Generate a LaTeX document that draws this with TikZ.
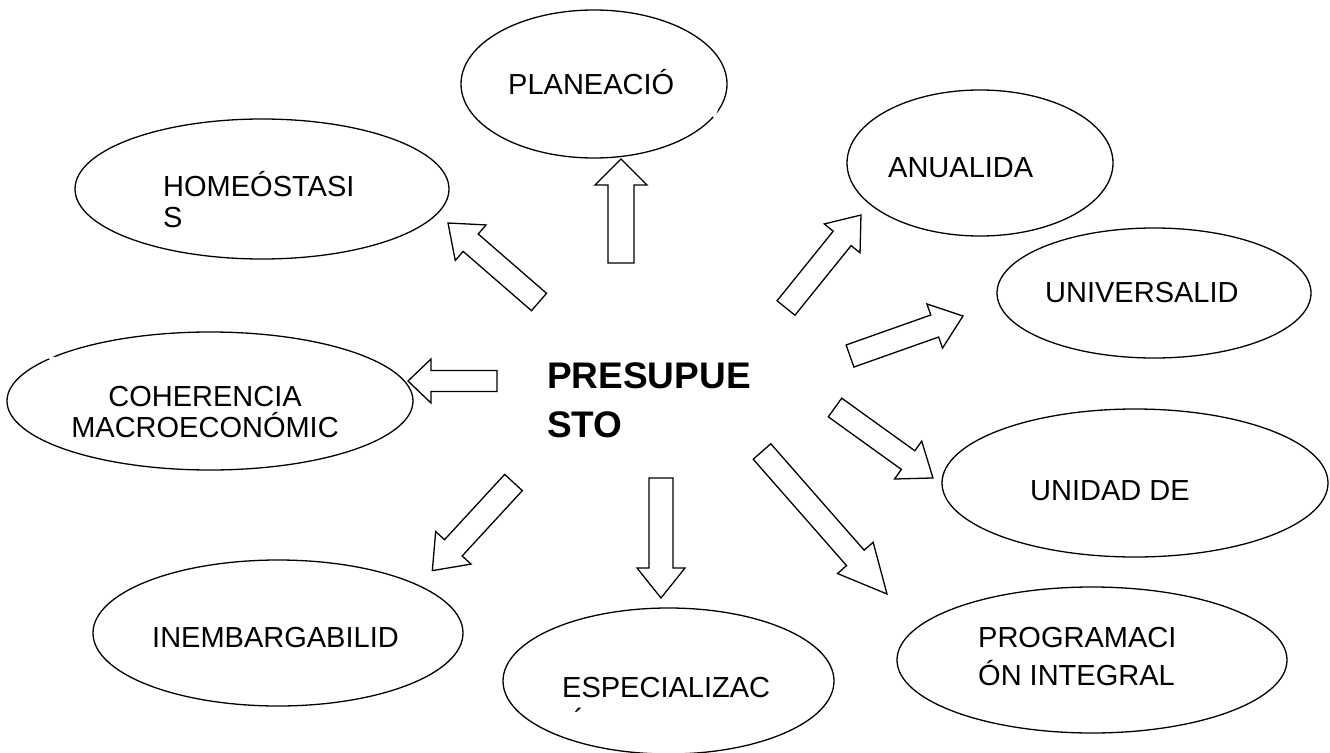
\documentclass[tikz,border=0pt]{standalone}
\usepackage{fontspec}
\setmainfont{Liberation Sans}
\usetikzlibrary{shapes.geometric}
\newcommand{\barrow}[7]{%
  \pgfmathsetmacro\barang{atan2((#2)-(#4),(#3)-(#1))}%
  \pgfmathsetmacro\barlen{veclen((#3)-(#1),(#4)-(#2))}%
  \pgfmathsetmacro\barneck{\barlen-(#7)}%
  \begin{scope}[shift={(#1,-#2)},rotate=\barang]
    \draw[blockarrow] (0,-#5) -- (\barneck,-#5) -- (\barneck,-#6) -- (\barlen,0) -- (\barneck,#6) -- (\barneck,#5) -- (0,#5) -- cycle;
  \end{scope}}
\newcommand{\ctrline}[1]{\hbox to 0pt{\hss #1\hss}}
\begin{document}
\begin{tikzpicture}[x=1pt,y=1pt,
  ell/.style={ellipse, draw, line width=1.3pt, fill=white, inner sep=0pt},
  lbl/.style={inner sep=0pt, anchor=base west, font=\fontsize{29}{31}\selectfont},
  blockarrow/.style={draw, fill=white, line width=1.3pt, line join=miter}]
\useasboundingbox (0,0) rectangle (1330,-752);
\fill[white] (0,0) rectangle (1330,-752);

% ellipses
\node[ell, minimum width=266pt, minimum height=148pt] (plan) at (594,-84) {};
\node[ell, minimum width=374pt, minimum height=140pt] (homeo) at (262,-189) {};
\node[ell, minimum width=314pt, minimum height=130pt] (univ) at (1154,-293) {};
\node[ell, minimum width=266pt, minimum height=146pt] (anual) at (980,-163) {};
\node[ell, minimum width=406pt, minimum height=138pt] (coher) at (210,-401) {};
\node[ell, minimum width=386pt, minimum height=148pt] (unid) at (1135,-483) {};
\node[ell, minimum width=390pt, minimum height=146pt] (prog) at (1092,-660) {};
\node[ell, minimum width=370pt, minimum height=146pt] (inemb) at (278,-633) {};
\node[ell, minimum width=331pt, minimum height=146pt] (espec) at (668.5,-681) {};

% small gaps in outlines
\draw[white, line width=3pt] (716.5,-109) -- (714,-117);
\draw[white, line width=3pt] (49,-357.5) -- (55,-358.5);

% labels
\node[lbl] (tplan) at (508,-95) {PLANEACIÓ};
\node[lbl] (thomeo) at (163,-196) {\vtop{\hbox{HOMEÓSTASI}\hbox{S}}};
\node[lbl] (tanual) at (888,-177) {ANUALIDA};
\node[lbl] (tuniv) at (1045,-302) {UNIVERSALID};
\node[lbl, anchor=base] (tcoher) at (205,-406) {\vtop{\ctrline{COHERENCIA}\ctrline{MACROECONÓMIC}}};
\node[lbl] (tunid) at (1030,-500) {UNIDAD DE};
\node[lbl, font=\fontsize{29}{38}\selectfont] (tprog) at (978,-647) {\vtop{\hbox{PROGRAMACI}\hbox{ÓN INTEGRAL}}};
\node[lbl] (tinemb) at (152,-647) {INEMBARGABILID};
\node[lbl] (tespec) at (562,-697) {ESPECIALIZAC};
\node[lbl] (tacc) at (574,-729) {´};
\node[inner sep=0pt, anchor=base west, font=\bfseries\fontsize{37}{49}\selectfont] (center) at (547,-388) {\vtop{\hbox{PRESUPUE}\hbox{STO}}};

% block arrows: tail x,y ; tip x,y ; shaft half width ; head half width ; head length
\barrow{621}{263}{621}{159}{13}{26}{26}
\barrow{539}{302}{448}{223}{11.5}{23.5}{30}
\barrow{497}{381}{408}{381}{10.5}{22}{23}
\barrow{786}{308}{861}{215}{11.5}{23}{30}
\barrow{850}{356}{963}{316}{11.7}{23.4}{30}
\barrow{835}{407.5}{933}{478}{11.5}{23.3}{30.6}
\barrow{513.5}{482.5}{432}{571}{12}{24}{31}
\barrow{661}{478}{661}{598}{12}{24}{30}
\barrow{762}{451.5}{887}{594}{11.7}{23.7}{48}
\end{tikzpicture}
\end{document}
